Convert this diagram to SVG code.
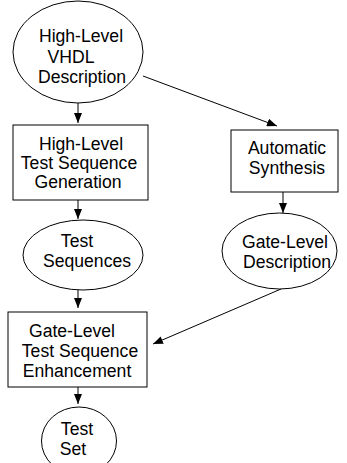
<svg xmlns="http://www.w3.org/2000/svg" width="347" height="463" viewBox="0 0 347 463">
<style>
.n{fill:#fff;stroke:#000;stroke-width:1}
.t{font-family:"Liberation Sans",Arial,sans-serif;font-size:17.6px;fill:#000;text-anchor:middle}
.c{stroke:#000;stroke-width:1;fill:none;marker-end:url(#ah)}
</style>
<defs>
<marker id="ah" viewBox="0 0 10 8" refX="10" refY="4" markerWidth="10" markerHeight="8" markerUnits="userSpaceOnUse" orient="auto">
<path d="M0,0 L10,4 L0,8 z" fill="#000"/>
</marker>
</defs>
<rect width="347" height="463" fill="#fff"/>
<g id="connectors">
<line class="c" x1="78" y1="103" x2="78" y2="123"/>
<line class="c" x1="143" y1="76" x2="277" y2="126"/>
<line class="c" x1="78" y1="200" x2="78" y2="219"/>
<line class="c" x1="283" y1="192" x2="283" y2="213"/>
<line class="c" x1="78" y1="290" x2="78" y2="308"/>
<line class="c" x1="281" y1="289" x2="153" y2="344"/>
<line class="c" x1="78" y1="387" x2="78" y2="404"/>
</g>
<g id="n1">
<ellipse class="n" cx="78" cy="52" rx="65" ry="51"/>
<text class="t" x="81" y="42">High-Level</text>
<text class="t" x="71" y="63">VHDL</text>
<text class="t" x="82" y="83">Description</text>
</g>
<g id="n2">
<rect class="n" x="13" y="125" width="135" height="75"/>
<text class="t" x="81" y="150">High-Level</text>
<text class="t" x="79" y="169">Test Sequence</text>
<text class="t" x="78" y="188">Generation</text>
</g>
<g id="n3">
<rect class="n" x="231" y="130" width="107" height="62"/>
<text class="t" x="287" y="154">Automatic</text>
<text class="t" x="287" y="174">Synthesis</text>
</g>
<g id="n4">
<ellipse class="n" cx="83" cy="255" rx="60" ry="35"/>
<text class="t" x="77" y="247">Test</text>
<text class="t" x="87" y="267">Sequences</text>
</g>
<g id="n5">
<ellipse class="n" cx="279.5" cy="251" rx="57.5" ry="38"/>
<text class="t" x="285" y="248">Gate-Level</text>
<text class="t" x="287" y="268">Description</text>
</g>
<g id="n6">
<rect class="n" x="8" y="312" width="139" height="75"/>
<text class="t" x="72" y="337">Gate-Level</text>
<text class="t" x="80" y="357">Test Sequence</text>
<text class="t" x="77" y="377">Enhancement</text>
</g>
<g id="n7">
<ellipse class="n" cx="79" cy="441" rx="37.5" ry="34"/>
<text class="t" x="77" y="435">Test</text>
<text class="t" x="73" y="455">Set</text>
</g>
</svg>
